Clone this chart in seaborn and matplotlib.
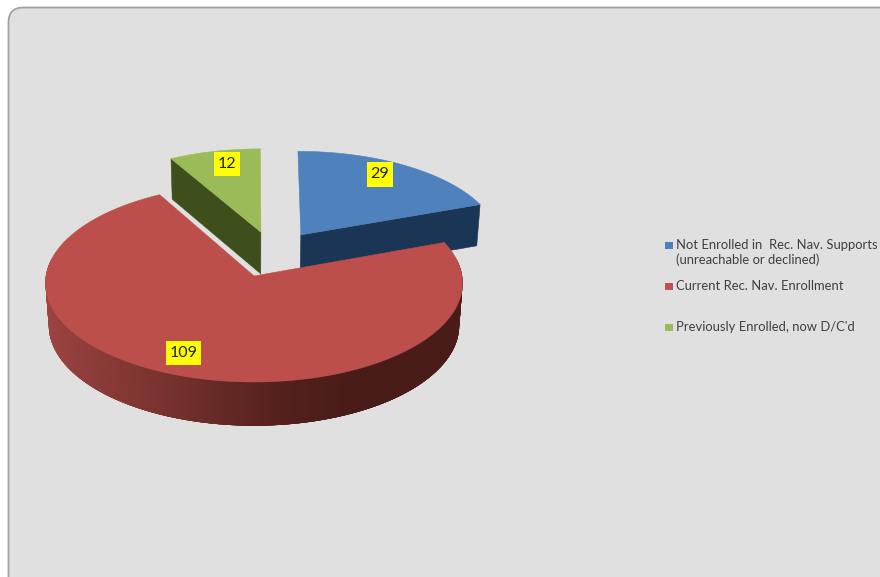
import numpy as np
import matplotlib
matplotlib.use("Agg")
import matplotlib.pyplot as plt
from matplotlib.colors import LinearSegmentedColormap
from matplotlib.patches import FancyBboxPatch, Polygon, Rectangle
import seaborn as sns

# Enrollment counts, in clockwise order from twelve o'clock
categories = ["Not Enrolled in  Rec. Nav. Supports\n(unreachable or declined)",
              "Current Rec. Nav. Enrollment",
              "Previously Enrolled, now D/C'd"]
counts = [29, 109, 12]
top_colors = ["#4F81BD", "#BC4E4B", "#9BBB59"]
side_colors = ["#1B3555", None, "#3F4F1B"]
key_colors = ["#4F81BD", "#C0504D", "#9BBB59"]
explode_offsets = [(0.232, 0.43), (0.0, 0.0), (0.034, 0.46)]
slice_scales = [(0.975, 0.96), (1.0, 1.0), (0.975, 0.96)]
label_centers = [(380, 174.5), (183.5, 353), (227, 164)]
key_rows = [245.5, 286.5, 327.5]

sns.set_theme(style="white")
plt.rcParams["font.family"] = ["Lato", "DejaVu Sans"]

# Perspective parameters of the tilted disc
X0, Y0 = 254.0, 276.0
RX, RY = 208.0, 98.5
TILT, SHRINK, DEPTH = 0.0707, 0.016, 43.0


def project(u, v, z=0.0):
    d = 1 + TILT * np.asarray(v) + SHRINK * z
    return X0 + RX * np.asarray(u) / d, Y0 - RY * np.asarray(v) / d + DEPTH * z / d


fig = plt.figure(figsize=(8.8, 5.77), dpi=100, facecolor="white")
ax = fig.add_axes([0, 0, 1, 1])
ax.set_xlim(0, 880)
ax.set_ylim(577, 0)
ax.axis("off")
sns.despine(ax=ax, left=True, bottom=True)

ax.add_patch(FancyBboxPatch((8.5, 7.5), 900, 600, boxstyle="round,pad=0,rounding_size=15",
                            fc="#E0E0E0", ec="#A2A2A2", lw=1.3, zorder=0))

rim_map = LinearSegmentedColormap.from_list(
    "rim", ["#9C4542", "#8A3B38", "#7A332F", "#652925", "#53201C", "#4A1C19", "#4A1C19"])

# Slice boundaries, running clockwise from the top of the disc
fractions = np.array(counts) / np.sum(counts)
edges = 90 - 360 * np.concatenate([[0], np.cumsum(fractions)])

# Rear slices are painted first so the large slice overlaps them
for i in [0, 2, 1]:
    du, dv = explode_offsets[i]
    su, sv = slice_scales[i]
    theta = np.radians(np.linspace(edges[i], edges[i + 1], 360))
    u = du + su * np.cos(theta)
    v = dv + sv * np.sin(theta)
    base = 3 + (i == 1)
    if i == 1:
        # Outer wall, shaded in bands laid left to right, each overlapping the next
        front = np.where(np.sin(theta) < 0.2)[0][::-1]
        for j in front[:-6]:
            seg = np.arange(j - 5, j + 1)
            tx, ty = project(u[seg], v[seg])
            bx, by = project(u[seg], v[seg], 1.0)
            shade = float(np.clip((np.cos(theta[j]) + 1) / 1.7, 0, 1))
            ax.add_patch(Polygon(np.c_[np.r_[tx, bx[::-1]], np.r_[ty, by[::-1]]],
                                 fc=rim_map(shade), ec="none", lw=0, zorder=base))
    else:
        # The cut face turned towards the viewer
        rim_end = -1 if i == 0 else 0
        edge_u = np.array([du, u[rim_end]])
        edge_v = np.array([dv, v[rim_end]])
        tx, ty = project(edge_u, edge_v)
        bx, by = project(edge_u, edge_v, 1.0)
        ax.add_patch(Polygon(np.c_[np.r_[tx, bx[::-1]], np.r_[ty, by[::-1]]],
                             fc=side_colors[i], ec=side_colors[i], lw=0.4, zorder=base))
    px, py = project(np.r_[du, u], np.r_[dv, v])
    ax.add_patch(Polygon(np.c_[px, py], fc=top_colors[i], ec=top_colors[i], lw=0.4, zorder=base + 1))

# Value tags on the slices
for value, (lx, ly) in zip(counts, label_centers):
    half = 17.5 if value > 99 else 13
    ax.add_patch(Rectangle((lx - half, ly - 12.2), 2 * half, 24.4, fc="#FFFF00", ec="none", zorder=8))
    ax.text(lx, ly, str(value), ha="center", va="center", fontsize=11.5, color="#1F1F1F", zorder=9)

# Key at the right of the disc
for name, color, ry in zip(categories, key_colors, key_rows):
    ax.add_patch(Rectangle((665, ry - 3.8), 7.6, 7.6, fc=color, ec="none", zorder=5))
    ax.text(676, ry - 6.4, name, ha="left", va="top", fontsize=9.33, color="#3F3F3F",
            linespacing=1.25, zorder=5)

fig.savefig("out.png", dpi=100, facecolor=fig.get_facecolor())
